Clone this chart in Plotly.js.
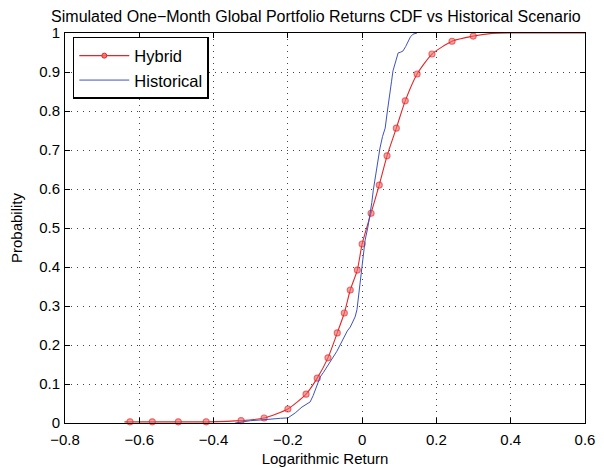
<!DOCTYPE html>
<html>
<head>
<meta charset="utf-8">
<script src="https://cdn.plot.ly/plotly-3.0.1.min.js"></script>
<style>html,body{margin:0;padding:0;background:#fff}#chart{width:604px;height:468px}</style>
</head>
<body>
<div id="chart"></div>
<script>
// Hybrid (simulated) CDF
var hybridX = [-0.64, -0.625, -0.565, -0.495, -0.42, -0.326, -0.264, -0.2, -0.151, -0.121, -0.092, -0.067, -0.048, -0.032, -0.013, 0.0, 0.024, 0.046, 0.067, 0.092, 0.116, 0.148, 0.188, 0.242, 0.299, 0.35, 0.6];
var hybridY = [0.003, 0.003, 0.003, 0.003, 0.003, 0.006, 0.013, 0.036, 0.074, 0.115, 0.167, 0.231, 0.282, 0.341, 0.392, 0.459, 0.538, 0.61, 0.685, 0.756, 0.826, 0.895, 0.946, 0.979, 0.992, 0.999, 1.0];
var hybridMarked = [0, 1, 1, 1, 1, 1, 1, 1, 1, 1, 1, 1, 1, 1, 1, 1, 1, 1, 1, 1, 1, 1, 1, 1, 1, 0, 0];

// Historical scenario empirical CDF
var histX = [-0.342, -0.32, -0.3, -0.27, -0.25, -0.22, -0.2, -0.18, -0.162, -0.15, -0.14, -0.132, -0.121, -0.113, -0.104, -0.094, -0.086, -0.078, -0.068, -0.059, -0.052, -0.046, -0.04, -0.032, -0.025, -0.019, -0.014, -0.011, -0.005, 0.0, 0.004, 0.008, 0.015, 0.022, 0.026, 0.03, 0.035, 0.04, 0.044, 0.048, 0.055, 0.062, 0.068, 0.075, 0.079, 0.083, 0.09, 0.097, 0.104, 0.11, 0.117, 0.124, 0.13, 0.137, 0.143, 0.148];
var histY = [0.0, 0.003, 0.006, 0.008, 0.01, 0.012, 0.013, 0.026, 0.041, 0.048, 0.054, 0.07, 0.097, 0.118, 0.13, 0.144, 0.158, 0.169, 0.184, 0.2, 0.212, 0.226, 0.236, 0.246, 0.258, 0.272, 0.29, 0.315, 0.35, 0.4, 0.435, 0.469, 0.5, 0.538, 0.565, 0.597, 0.625, 0.656, 0.685, 0.705, 0.735, 0.756, 0.8, 0.841, 0.875, 0.903, 0.93, 0.949, 0.951, 0.954, 0.965, 0.979, 0.99, 0.997, 0.999, 1.0];

var xTicks = [-0.8, -0.6, -0.4, -0.2, 0, 0.2, 0.4, 0.6];
var yTicks = [0, 0.1, 0.2, 0.3, 0.4, 0.5, 0.6, 0.7, 0.8, 0.9, 1];

var red = 'rgb(228,38,38)';
var redFill = 'rgba(240,110,110,0.9)';
var blue = 'rgb(62,82,190)';
var FONT = 'Liberation Sans, Arial, sans-serif';

var traces = [
  {
    x: hybridX, y: hybridY, name: 'Hybrid', type: 'scatter', mode: 'lines+markers', showlegend: false,
    line: {color: red, width: 1.1, shape: 'spline', smoothing: 0.6},
    marker: {symbol: 'circle', color: redFill, size: hybridMarked.map(function(m){return m ? 6 : 0;}),
             line: {color: red, width: 1.1}},
    cliponaxis: false
  },
  {
    x: histX, y: histY, name: 'Historical', type: 'scatter', mode: 'lines', showlegend: false,
    line: {color: blue, width: 1}
  },
  // legend entries
  {
    x: [null], y: [null], name: 'Hybrid', type: 'scatter', mode: 'lines+markers',
    line: {color: red, width: 1.1},
    marker: {symbol: 'circle', color: redFill, size: 5, line: {color: red, width: 1}}
  },
  {
    x: [null], y: [null], name: 'Historical', type: 'scatter', mode: 'lines',
    line: {color: blue, width: 1}
  }
];

var axisCommon = {
  showline: true, linecolor: '#000', linewidth: 1, mirror: 'ticks',
  ticks: 'inside', ticklen: 5, tickcolor: '#000', tickwidth: 1,
  showgrid: true, gridcolor: '#444', griddash: '1px,5px', gridwidth: 1,
  zeroline: false,
  tickfont: {family: FONT, size: 15, color: '#000'}
};

var layout = {
  width: 604, height: 468,
  margin: {l: 65, r: 19, t: 33, b: 45},
  paper_bgcolor: '#fff', plot_bgcolor: '#fff',
  title: {text: 'Simulated One\u2212Month Global Portfolio Returns CDF vs Historical Scenario',
          font: {family: FONT, size: 16, color: '#000'},
          x: 0.523, xanchor: 'center', y: 0.966, yanchor: 'middle'},
  xaxis: Object.assign({}, axisCommon, {
    range: [-0.8, 0.6], tickvals: xTicks, ticklabelstandoff: 3,
    title: {text: 'Logarithmic Return', font: {family: FONT, size: 15, color: '#000'}, standoff: 6}
  }),
  yaxis: Object.assign({}, axisCommon, {
    range: [0, 1], tickvals: yTicks, ticklabelstandoff: 1,
    title: {text: 'Probability', font: {family: FONT, size: 15, color: '#000'}, standoff: 12}
  }),
  showlegend: true,
  legend: {
    x: 0.015, y: 0.99, xanchor: 'left', yanchor: 'top',
    bgcolor: '#fff', bordercolor: '#000', borderwidth: 1.5,
    font: {family: FONT, size: 16.5, color: '#000'},
    tracegroupgap: 0, itemwidth: 50
  }
};

Plotly.newPlot('chart', traces, layout, {displayModeBar: false, staticPlot: true});
</script>
</body>
</html>
